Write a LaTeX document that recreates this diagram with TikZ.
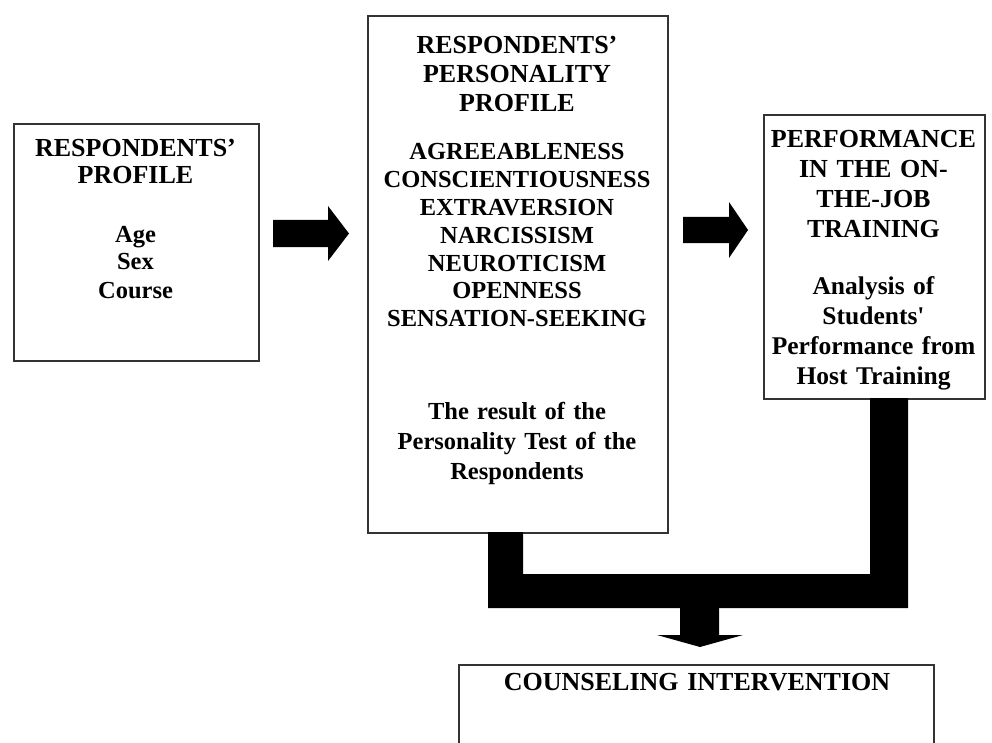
\documentclass[tikz,border=0pt]{standalone}
\usepackage{fontspec}
\setmainfont{Liberation Serif}
\begin{document}
\begin{tikzpicture}[x=1pt,y=-1pt,
  box/.style={draw=black!80, line width=1.7pt, fill=white, inner sep=0pt, anchor=north west},
  hd/.style={anchor=base, inner sep=0pt, align=center, font=\bfseries\fontsize{26}{29}\selectfont},
  bd/.style={anchor=base, inner sep=0pt, align=center, font=\bfseries\fontsize{24.5}{28}\selectfont},
  blockarrow/.style={fill=black}]
\useasboundingbox (0,0) rectangle (992,743);
\clip (0,0) rectangle (992,743);
% boxes
\node[box, minimum width=245, minimum height=237] (b1) at (13,123) {};
\node[box, minimum width=300, minimum height=517] (b2) at (367,15) {};
\node[box, minimum width=221, minimum height=284] (b3) at (763,114) {};
\node[box, minimum width=475, minimum height=130] (b4) at (458,664) {};
% texts box 1
\node[hd, text width=235, font=\bfseries\fontsize{26}{27}\selectfont] (t1a) at (135.5,156.5) {RESPONDENTS’\\PROFILE};
\node[bd, text width=235] (t1b) at (135.5,242) {Age\\Sex\\Course};
% texts box 2
\node[hd, text width=290] (t2a) at (517,53.5) {RESPONDENTS’\\PERSONALITY\\PROFILE};
\node[bd, text width=290, font=\bfseries\fontsize{24.5}{27.8}\selectfont] (t2b) at (517,160) {AGREEABLENESS\\CONSCIENTIOUSNESS\\EXTRAVERSION\\NARCISSISM\\NEUROTICISM\\OPENNESS\\SENSATION-SEEKING};
\node[bd, text width=290, font=\bfseries\fontsize{24.5}{30}\selectfont] (t2c) at (517,419) {The result of the\\Personality Test of the\\Respondents};
% texts box 3
\node[hd, text width=215, font=\bfseries\fontsize{26}{30}\selectfont] (t3a) at (873.5,147.5) {PERFORMANCE\\IN THE ON-\\THE-JOB\\TRAINING};
\node[hd, text width=215, font=\bfseries\fontsize{25.5}{30}\selectfont] (t3b) at (873.5,294.5) {Analysis of\\Students\textquotesingle\\Performance from\\Host Training};
% text box 4
\node[hd, text width=460] (t4) at (697,690.5) {COUNSELING INTERVENTION};
% block arrows
\fill[blockarrow] (273,220) -- (328,220) -- (328,206) -- (349,233.5) -- (328,261) -- (328,247) -- (273,247) -- cycle;
\fill[blockarrow] (683,217) -- (729,217) -- (729,202) -- (748,230) -- (729,258) -- (729,243) -- (683,243) -- cycle;
% joining bars
\fill[blockarrow] (488,532) -- (523,532) -- (523,574) -- (870,574) -- (870,398) -- (908,398) -- (908,608) -- (488,608) -- cycle;
% down arrow
\fill[blockarrow] (680,606) -- (719,606) -- (719,635) -- (743,635) -- (700,647) -- (657,635) -- (680,635) -- cycle;
\end{tikzpicture}
\end{document}
